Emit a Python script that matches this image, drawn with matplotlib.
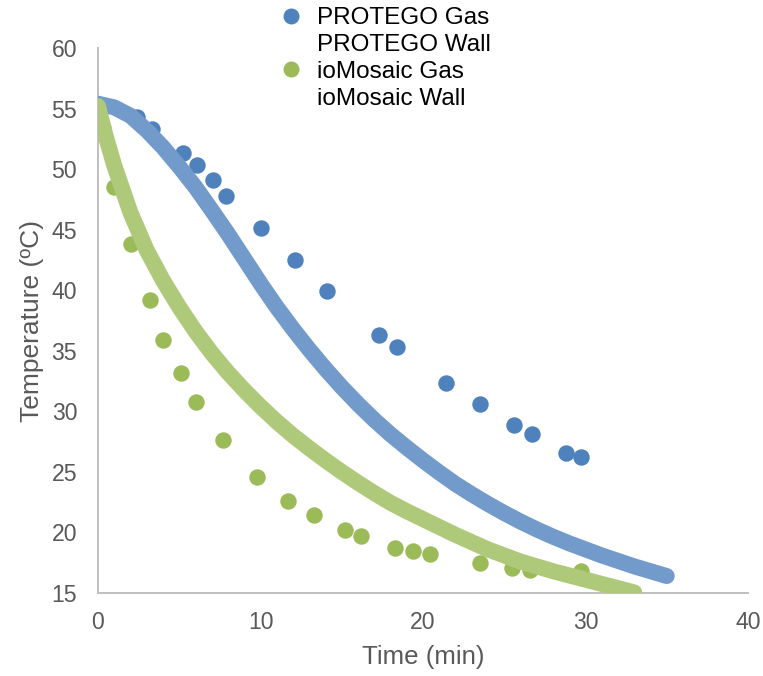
import matplotlib
matplotlib.use("Agg")
import matplotlib.pyplot as plt
from matplotlib.lines import Line2D

plt.rcParams['font.family'] = ['Liberation Sans', 'DejaVu Sans']

# Gas temperature (time in min, temperature in degC)
protego_gas_t = [0.0, 2.4, 3.3, 5.2, 6.1, 7.1, 7.9, 10.0, 12.1, 14.1, 17.3, 18.4,
                 21.4, 23.5, 25.6, 26.7, 28.8, 29.7]
protego_gas_T = [55.3, 54.3, 53.3, 51.3, 50.3, 49.1, 47.8, 45.1, 42.5, 39.9, 36.3, 35.3,
                 32.3, 30.6, 28.9, 28.1, 26.6, 26.2]

iomosaic_gas_t = [0.0, 0.3, 1.0, 2.0, 3.2, 4.0, 5.1, 6.0, 7.7, 9.8, 11.7, 13.3,
                  15.2, 16.2, 18.3, 19.4, 20.4, 23.5, 25.5, 26.6, 29.7]
iomosaic_gas_T = [55.0, 53.4, 48.5, 43.8, 39.2, 35.9, 33.2, 30.8, 27.6, 24.6, 22.6, 21.4,
                  20.2, 19.7, 18.7, 18.5, 18.2, 17.5, 17.1, 16.9, 16.8]

# Wall temperature (one value per minute)
protego_wall_t = list(range(0, 36))
protego_wall_T = [55.4, 55.1, 54.4, 53.2, 51.8, 50.2, 48.5, 46.6, 44.65, 42.6,
                  40.55, 38.6, 36.8, 35.1, 33.5, 32.0, 30.6, 29.3, 28.1, 27.0,
                  25.95, 24.95, 24.0, 23.15, 22.35, 21.6, 20.9, 20.25, 19.65, 19.1,
                  18.6, 18.1, 17.65, 17.2, 16.8, 16.4]

iomosaic_wall_t = [0, 0.5] + list(range(1, 34))
iomosaic_wall_T = [55.2, 52.6, 50.3, 46.4, 43.3, 40.8, 38.6, 36.6, 34.8, 33.2, 31.75,
                   30.4, 29.15, 28.0, 26.95, 25.95, 25.0, 24.1, 23.25, 22.45, 21.75,
                   21.1, 20.45, 19.8, 19.2, 18.6, 18.1, 17.6, 17.2, 16.8, 16.45,
                   16.1, 15.75, 15.4, 15.05]

x_ticks = [0, 10, 20, 30, 40]
y_ticks = [15, 20, 25, 30, 35, 40, 45, 50, 55, 60]

BLUE_GAS = '#4f81bd'
BLUE_WALL = '#729aca'
GREEN_GAS = '#9bbb59'
GREEN_WALL = '#afc97a'
AXIS_GREY = '#bfbfbf'
TEXT_GREY = '#595959'

fig = plt.figure(figsize=(7.63, 6.76), dpi=100)
ax = fig.add_axes([98 / 763, 1 - 593 / 676, 650 / 763, 545 / 676])

ax.scatter(protego_gas_t, protego_gas_T, s=140, color=BLUE_GAS, linewidths=0, zorder=2)
ax.plot(protego_wall_t, protego_wall_T, color=BLUE_WALL, lw=11.5, solid_capstyle='round',
        solid_joinstyle='round', zorder=3)
ax.scatter(iomosaic_gas_t, iomosaic_gas_T, s=140, color=GREEN_GAS, linewidths=0, zorder=4)
ax.plot(iomosaic_wall_t, iomosaic_wall_T, color=GREEN_WALL, lw=11.5, solid_capstyle='round',
        solid_joinstyle='round', zorder=5)

ax.set_xlim(0, 40)
ax.set_ylim(15, 60)
ax.set_xticks(x_ticks)
ax.set_yticks(y_ticks)
ax.tick_params(length=0, labelsize=16.6, colors=TEXT_GREY, pad=13)
ax.tick_params(axis='y', pad=15)
for side in ('top', 'right'):
    ax.spines[side].set_visible(False)
for side in ('left', 'bottom'):
    ax.spines[side].set_color(AXIS_GREY)
    ax.spines[side].set_linewidth(1.4)
    ax.spines[side].set_zorder(1)
ax.patch.set_alpha(0)

ax.set_xlabel('Time (min)', fontsize=18.6, color=TEXT_GREY, labelpad=8)
ax.set_ylabel('Temperature (ºC)', fontsize=19, color=TEXT_GREY, labelpad=5)

handles = [
    Line2D([], [], ls='none', marker='o', ms=11.5, color=BLUE_GAS, mec='none'),
    Line2D([], [], ls='none', marker='none'),
    Line2D([], [], ls='none', marker='o', ms=11.5, color=GREEN_GAS, mec='none'),
    Line2D([], [], ls='none', marker='none'),
]
labels = ['PROTEGO Gas', 'PROTEGO Wall', 'ioMosaic Gas', 'ioMosaic Wall']
fig.legend(handles, labels, loc='upper left', bbox_to_anchor=(279 / 763, 1 - 7 / 676),
           frameon=False, fontsize=17.5, handlelength=0.95, handletextpad=0.6,
           labelspacing=0.2, borderpad=0, borderaxespad=0)

fig.savefig('out.png', dpi=100, facecolor='white')
